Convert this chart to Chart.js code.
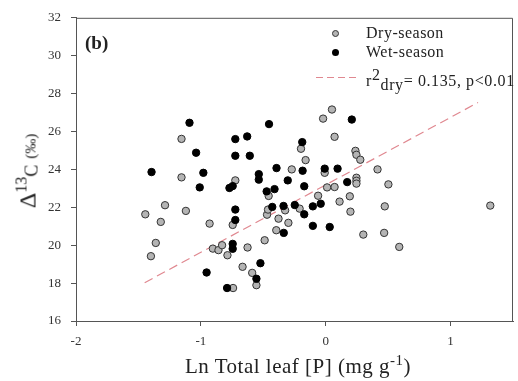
<!DOCTYPE html>
<html>
<head>
<meta charset="utf-8">
<script src="https://cdn.jsdelivr.net/npm/chart.js@4/dist/chart.umd.min.js"></script>
<style>
  body { margin: 0; background: #fff; }
  #wrap { position: relative; width: 518px; height: 381px; font-family: "Liberation Serif", "DejaVu Serif", serif; color: #222; }
  #wrap canvas { position: absolute; left: 0; top: 0; }
  .lbl { position: absolute; white-space: nowrap; line-height: 1; }
  .dot { position: absolute; border-radius: 50%; }
</style>
</head>
<body>
<div id="wrap">
  <canvas id="chart" width="518" height="381"></canvas>
  <div class="lbl" style="left:85px; top:33px; font-size:19px; font-weight:bold;">(b)</div>

  <div class="dot" style="left:332px; top:30px; background:#b4b4b4; border:1px solid #333; width:5px; height:5px;"></div>
  <div class="lbl" style="left:366px; top:25px; font-size:16px; letter-spacing:0.5px;">Dry-season</div>
  <div class="dot" style="left:332px; top:49px; background:#000; width:7px; height:7px;"></div>
  <div class="lbl" style="left:366px; top:44px; font-size:16px; letter-spacing:0.5px;">Wet-season</div>
  <svg style="position:absolute; left:316px; top:76px;" width="42" height="3"><line x1="0" y1="1.5" x2="42" y2="1.5" stroke="#e08890" stroke-width="1.2" stroke-dasharray="7,4"/></svg>
  <div class="lbl" style="left:366px; top:67px; font-size:16px; letter-spacing:0.6px;">r<sup style="font-size:16px; vertical-align:6px;">2</sup><sub style="font-size:16px; vertical-align:-4px;">dry</sub>= 0.135, p&lt;0.01</div>

  <div class="lbl" style="left:185px; top:353px; font-size:21px; letter-spacing:0.5px;">Ln Total leaf [P] (mg g<sup style="font-size:15px; vertical-align:8px;">-1</sup>)</div>

  <div class="lbl" style="left:27px; top:171px; font-size:24px; transform:translate(-50%,-50%) rotate(-90deg);">Δ<sup style="font-size:16px; vertical-align:9px;">13</sup><span style="font-size:18px; vertical-align:-2px;">C</span> <span style="font-size:15px;">(‰)</span></div>
</div>
<script>
// dry-season points
const dryX = [-1.445, -1.400, -1.361, -1.321, -1.287, -1.155, -1.155, -1.120, -0.930, -0.904,
  -0.859, -0.830, -0.787, -0.745, -0.742, -0.724, -0.666, -0.626, -0.589, -0.555,
  -0.489, -0.470, -0.462, -0.457, -0.378, -0.396, -0.325, -0.299, -0.272, -0.209,
  -0.198, -0.161, -0.061, -0.021, -0.008, 0.011, 0.050, 0.071, 0.071, 0.111,
  0.193, 0.198, 0.238, 0.246, 0.277, 0.246, 0.246, 0.246, 0.301, 0.415,
  0.468, 0.473, 0.502, 0.589, 1.318];
const dryY = [21.63, 19.42, 20.12, 21.23, 22.11, 25.61, 23.58, 21.81, 21.14, 19.82,
  19.74, 20.00, 19.47, 21.07, 17.74, 23.42, 18.86, 19.88, 18.54, 17.89,
  20.26, 21.61, 21.88, 22.60, 21.40, 20.79, 21.84, 21.18, 24.00, 21.93,
  25.09, 24.49, 22.61, 26.68, 23.82, 23.05, 27.16, 25.72, 23.07, 22.30,
  22.58, 21.77, 24.98, 24.77, 24.51, 23.56, 23.40, 23.25, 20.56, 24.00,
  20.65, 22.05, 23.21, 19.91, 22.09];

// wet-season points
const wetX = [-1.395, -1.091, -1.038, -0.980, -1.009, -0.954, -0.790, -0.771, -0.745, -0.745,
  -0.745, -0.724, -0.724, -0.724, -0.724, -0.629, -0.608, -0.536, -0.536, -0.523,
  -0.555, -0.473, -0.454, -0.428, -0.410, -0.394, -0.338, -0.336, -0.304, -0.248,
  -0.188, -0.185, -0.172, -0.172, -0.103, -0.103, -0.040, -0.008, 0.032, 0.095,
  0.172, 0.209];
const wetY = [23.86, 26.46, 24.88, 23.82, 23.05, 18.56, 17.74, 23.02, 23.12, 20.07,
  19.81, 25.60, 24.72, 21.88, 21.33, 25.74, 24.72, 23.75, 23.46, 19.05,
  18.23, 22.84, 26.39, 22.02, 22.96, 24.07, 22.07, 20.65, 23.42, 22.12,
  25.44, 23.93, 23.11, 21.63, 22.05, 21.02, 22.19, 24.04, 20.96, 24.04,
  23.33, 26.63];

// dry-season fit line ends
const fitX = [-1.45, 1.22];
const fitY = [18.02, 27.53];

const xTicks = [-2, -1, 0, 1];
const yTicks = [16, 18, 20, 22, 24, 26, 28, 30, 32];

const toPts = (xs, ys) => xs.map((x, i) => ({ x: x, y: ys[i] }));

// top and right edges of the frame
const framePlugin = {
  id: 'frame',
  afterDraw(chart) {
    const a = chart.chartArea;
    const ctx = chart.ctx;
    ctx.save();
    ctx.strokeStyle = '#555';
    ctx.lineWidth = 1;
    ctx.beginPath();
    ctx.moveTo(a.left, a.top + 0.5);
    ctx.lineTo(a.right - 0.5, a.top + 0.5);
    ctx.lineTo(a.right - 0.5, a.bottom);
    ctx.stroke();
    ctx.restore();
  }
};

const tickFont = { family: 'Liberation Serif', size: 13 };

new Chart(document.getElementById('chart'), {
  type: 'scatter',
  data: {
    datasets: [
      {
        type: 'line',
        data: toPts(fitX, fitY),
        borderColor: '#e08890',
        borderWidth: 1.2,
        borderDash: [9, 5],
        pointRadius: 0,
        fill: false,
        order: 3
      },
      {
        data: toPts(dryX, dryY),
        backgroundColor: '#b4b4b4',
        borderColor: '#333',
        borderWidth: 1,
        pointRadius: 3.7,
        order: 2
      },
      {
        data: toPts(wetX, wetY),
        backgroundColor: '#000',
        borderColor: '#000',
        borderWidth: 1,
        pointRadius: 3.7,
        order: 1
      }
    ]
  },
  options: {
    responsive: false,
    animation: false,
    layout: { padding: { top: 17, right: 1, left: 0, bottom: 0 } },
    plugins: { legend: { display: false }, tooltip: { enabled: false } },
    scales: {
      x: {
        type: 'linear',
        min: -2,
        max: 1.5,
        afterBuildTicks: s => { s.ticks = xTicks.map(v => ({ value: v })); },
        afterFit: s => { s.height = 60; },
        grid: { drawOnChartArea: false, drawTicks: true, tickLength: 5, color: '#555' },
        border: { color: '#555', width: 1 },
        ticks: { font: tickFont, color: '#333', padding: 8, maxRotation: 0 }
      },
      y: {
        type: 'linear',
        min: 16,
        max: 32,
        afterBuildTicks: s => { s.ticks = yTicks.map(v => ({ value: v })); },
        afterFit: s => { s.width = 76; },
        grid: { drawOnChartArea: false, drawTicks: true, tickLength: 5, color: '#555' },
        border: { color: '#555', width: 1 },
        ticks: { font: tickFont, color: '#333', padding: 10 }
      }
    }
  },
  plugins: [framePlugin]
});
</script>
</body>
</html>
